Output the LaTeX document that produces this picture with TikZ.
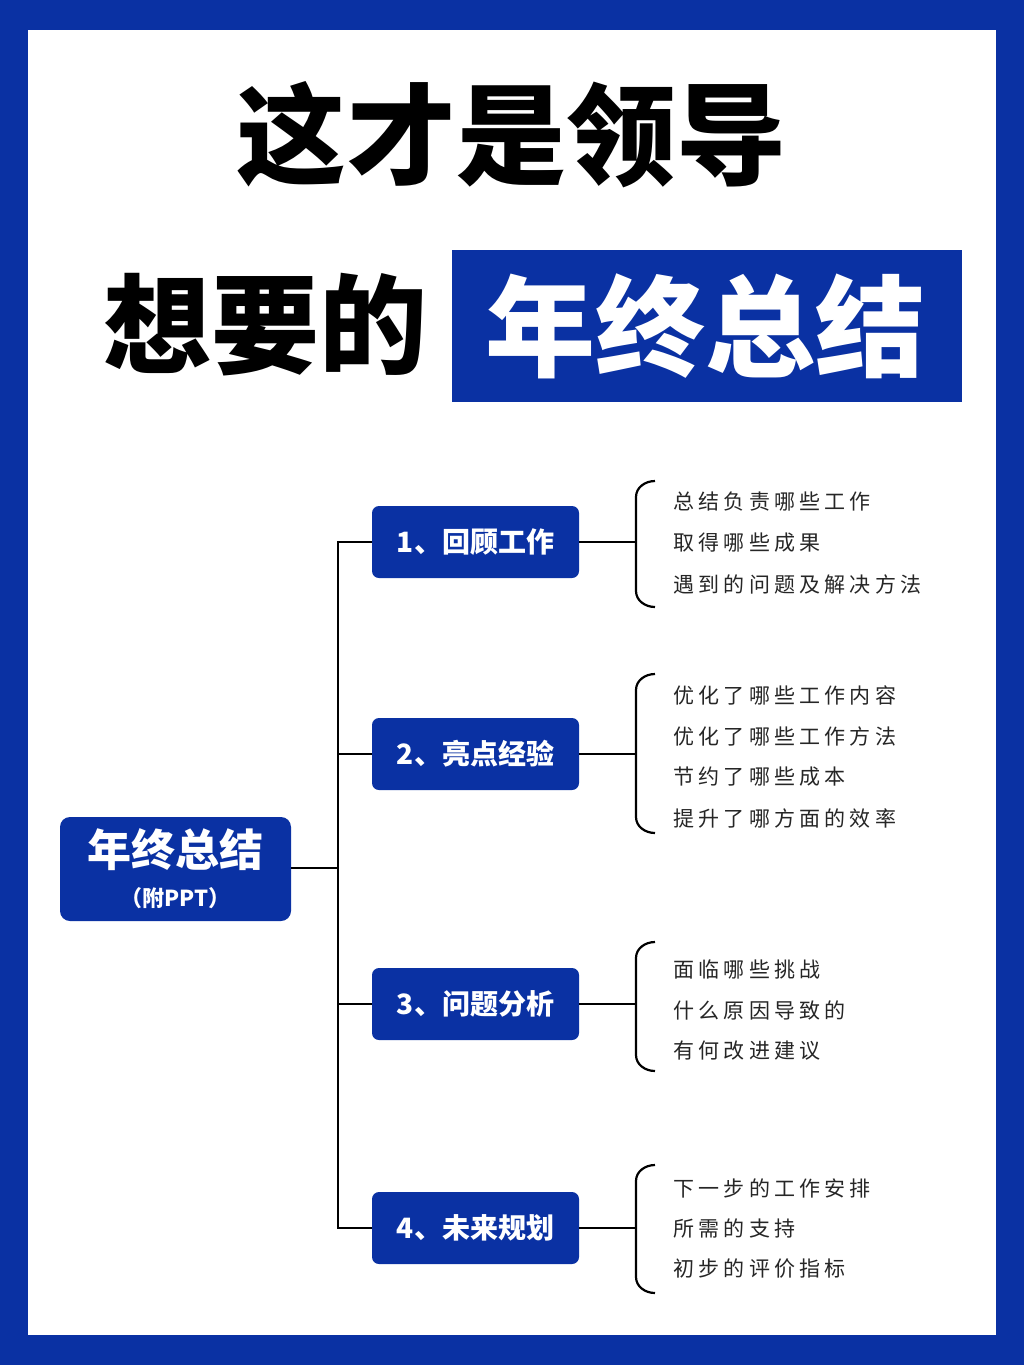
\documentclass[tikz,border=0pt]{standalone}
\usepackage{fontspec}
\newfontfamily\cjk{Noto Sans CJK SC}
\definecolor{bl}{HTML}{0A31A3}
\begin{document}
\begin{tikzpicture}[x=1pt,y=-1pt,
  box/.style={fill=bl,rounded corners=7pt,text=white,font=\cjk\bfseries\fontsize{28}{30}\selectfont},
  item/.style={anchor=west,font=\cjk\fontsize{21}{23}\selectfont,text=black!85},
  ln/.style={line width=2.5pt,black}]
\fill[bl] (0,0) rectangle (1024,1365);
\fill[white] (28,30) rectangle (996,1335);
\useasboundingbox (0,0) rectangle (1024,1365);
\node[font=\cjk\bfseries\fontsize{110}{114}\selectfont] (t1) at (511,135) {这才是领导};
\node[font=\cjk\bfseries\fontsize{108}{112}\selectfont] (t2) at (265,325) {想要的};
\fill[bl] (452,250) rectangle (962,402);
\node[font=\cjk\bfseries\fontsize{110}{114}\selectfont,text=white] (t3) at (705,326) {年终总结};
\node[fill=bl,rounded corners=10pt,minimum width=231pt,minimum height=104pt] (root) at (175.5,869) {};
\node[text=white,font=\cjk\bfseries\fontsize{44}{46}\selectfont] (rt) at (175.5,850) {年终总结};
\node[text=white,font=\cjk\bfseries\fontsize{22}{24}\selectfont] (rs) at (175.5,898) {（附PPT）};
\coordinate (j) at (338,868);
\draw[ln] (root.east|-j) -- (j);
\foreach \n/\y/\t/\a/\b in {1/542/1、回顾工作/481/607, 2/754/2、亮点经验/674/833, 3/1004/3、问题分析/942/1071, 4/1228/4、未来规划/1165/1293}{
  \node[box,minimum width=207pt,minimum height=72pt] (b\n) at (475.5,\y) {\t};
  \coordinate (k\n) at (338,\y);
  \coordinate (c\n) at (636,\y);
  \draw[ln] (k\n) -- (b\n.west);
  \draw[ln] (b\n.east) -- (c\n);
  \draw[line width=2.2pt] (655,\a) to[out=180,in=90] (636,\a+16) -- (636,\b-16) to[out=-90,in=180] (655,\b);
}
\draw[ln] (338,540.8) -- (338,1229.2);
\foreach \y/\t in {502/总结负责哪些工作,543/取得哪些成果,584/遇到的问题及解决方法,
  695/优化了哪些工作内容,736/优化了哪些工作方法,777/节约了哪些成本,818/提升了哪方面的效率,
  969/面临哪些挑战,1010/什么原因导致的,1051/有何改进建议,
  1188/下一步的工作安排,1228/所需的支持,1269/初步的评价指标}{
  \node[item] at (670,\y) {\addfontfeature{LetterSpace=20}\t};
}
\end{tikzpicture}
\end{document}
